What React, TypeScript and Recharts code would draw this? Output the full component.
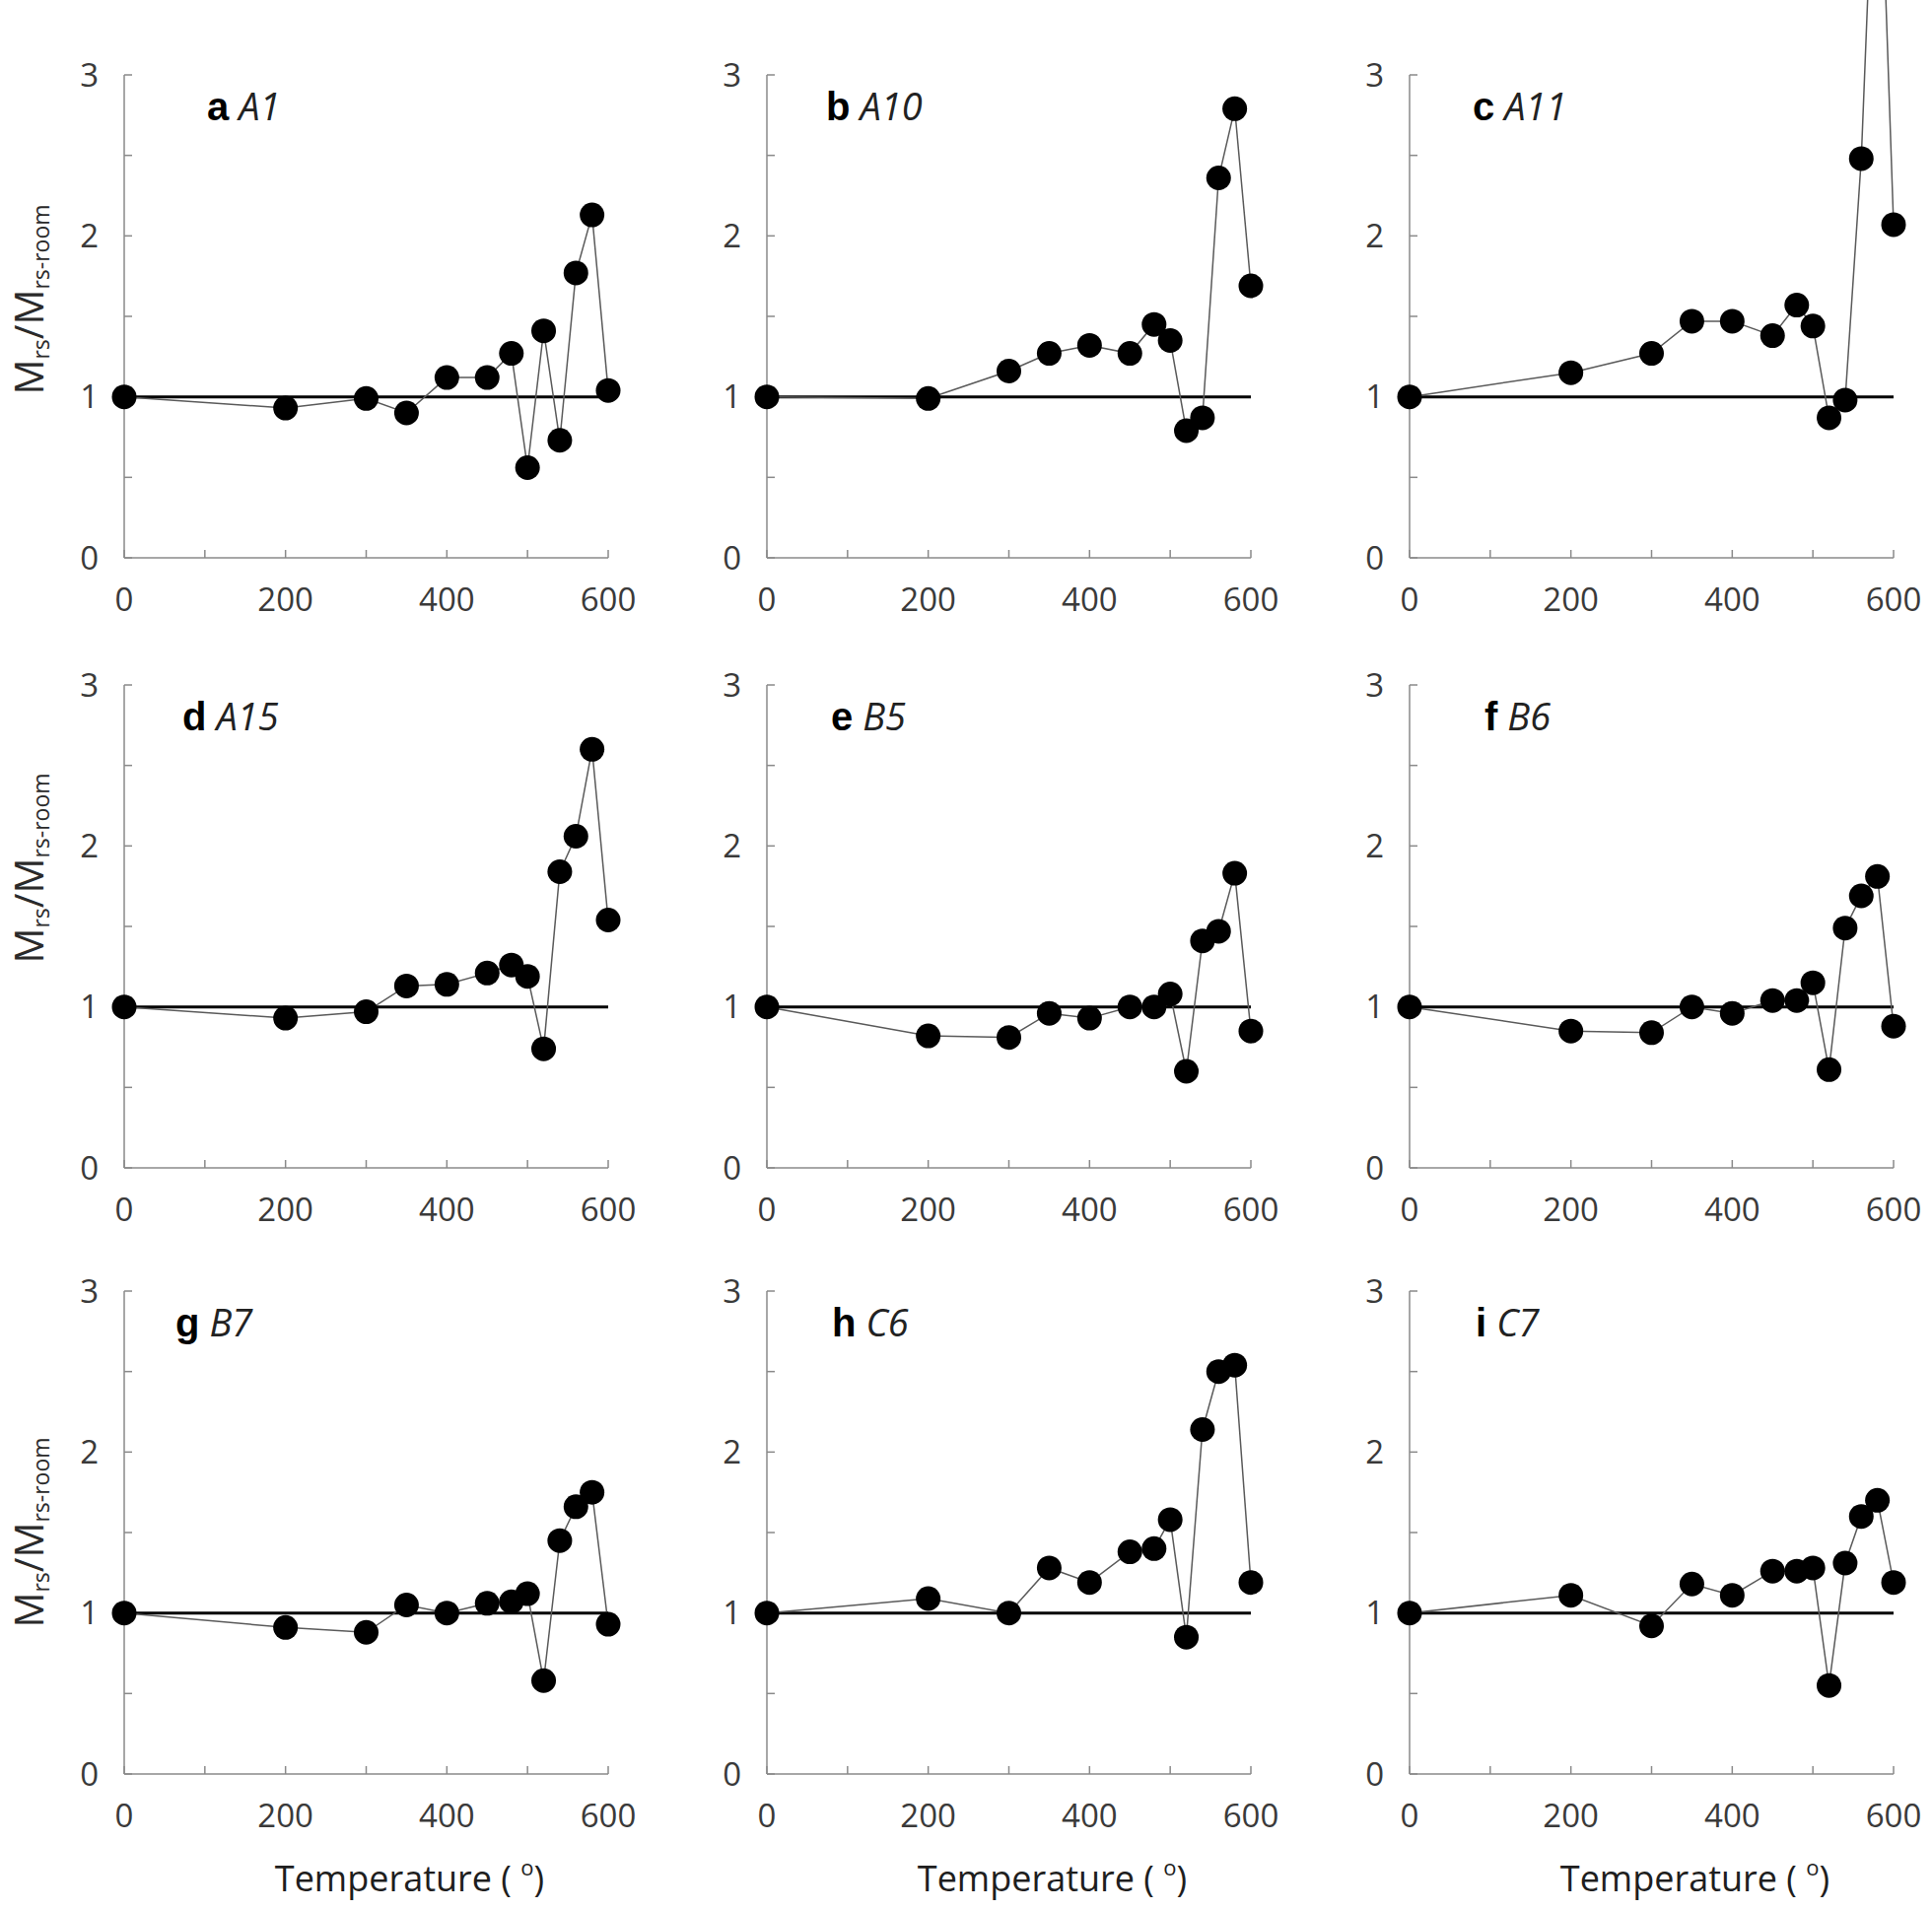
import { Line, LineChart, ReferenceLine, XAxis, YAxis } from 'recharts';

// heating steps (°C), shared by every sample
const temps = [0, 200, 300, 350, 400, 450, 480, 500, 520, 540, 560, 580, 600];

// Mrs / Mrs-room
const a1 = [1.0, 0.93, 0.99, 0.9, 1.12, 1.12, 1.27, 0.56, 1.41, 0.73, 1.77, 2.13, 1.04];
const a10 = [1.0, 0.99, 1.16, 1.27, 1.32, 1.27, 1.45, 1.35, 0.79, 0.87, 2.36, 2.79, 1.69];
const a11 = [1.0, 1.15, 1.27, 1.47, 1.47, 1.38, 1.57, 1.44, 0.87, 0.98, 2.48, 5.0, 2.07];
const a15 = [1.0, 0.93, 0.97, 1.13, 1.14, 1.21, 1.26, 1.19, 0.74, 1.84, 2.06, 2.6, 1.54];
const b5 = [1.0, 0.82, 0.81, 0.96, 0.93, 1.0, 1.0, 1.08, 0.6, 1.41, 1.47, 1.83, 0.85];
const b6 = [1.0, 0.85, 0.84, 1.0, 0.96, 1.04, 1.04, 1.15, 0.61, 1.49, 1.69, 1.81, 0.88];
const b7 = [1.0, 0.91, 0.88, 1.05, 1.0, 1.06, 1.07, 1.12, 0.58, 1.45, 1.66, 1.75, 0.93];
const c6 = [1.0, 1.09, 1.0, 1.28, 1.19, 1.38, 1.4, 1.58, 0.85, 2.14, 2.5, 2.54, 1.19];
const c7 = [1.0, 1.11, 0.92, 1.18, 1.11, 1.26, 1.26, 1.28, 0.55, 1.31, 1.6, 1.7, 1.19];

const letters = ['a', 'b', 'c', 'd', 'e', 'f', 'g', 'h', 'i'];
const samples = ['A1', 'A10', 'A11', 'A15', 'B5', 'B6', 'B7', 'C6', 'C7'];
const series = [a1, a10, a11, a15, b5, b6, b7, c6, c7];

const xTicks = [0, 100, 200, 300, 400, 500, 600];
const xLabelled = [0, 200, 400, 600];
const yTicks = [0, 0.5, 1, 1.5, 2, 2.5, 3];

// layout
const COL_LEFT = [126, 778, 1430];
const ROW_TOP = [76, 695, 1310];
const PLOT_W = 491;
const PLOT_H = 490;
const Y_AXIS_W = 126;
const TOP_PAD = 60;
const RIGHT_PAD = 30;
const X_AXIS_H = 130;
const LABEL_DX = [84, 60, 64, 59, 65, 76, 52, 66, 67];
const YTITLE_SHIFT = [-17, -59, 0];

const AXIS = '#8a8a8a';
const TICK_TEXT = '#3a3a3a';
const FONT = "'Open Sans', sans-serif";

function Panel({ idx }: { idx: number }) {
  const col = idx % 3;
  const row = Math.floor(idx / 3);
  const values = series[idx];
  const data = temps.map((t, i) => ({ t, v: values[i] }));

  // sample c runs off the top of the figure: extend the plot up to the page edge
  const ext = Math.max(...values) > 3 ? ROW_TOP[row] : 0;
  const marginTop = ext > 0 ? 0 : TOP_PAD;
  const plotH = PLOT_H + ext;
  const yTop = 3 + (ext * 3) / PLOT_H;
  const width = Y_AXIS_W + PLOT_W + RIGHT_PAD;
  const height = marginTop + plotH + X_AXIS_H;
  const plotTop = marginTop + ext; // where y = 3 sits
  const axisY = marginTop + plotH;

  return (
    <div style={{ position: 'absolute', left: COL_LEFT[col] - Y_AXIS_W, top: ROW_TOP[row] - ext - marginTop }}>
      <LineChart width={width} height={height} data={data} margin={{ top: marginTop, right: RIGHT_PAD, bottom: 0, left: 0 }}>
        <XAxis
          dataKey="t"
          type="number"
          domain={[0, 600]}
          ticks={xTicks}
          interval={0}
          tickFormatter={(v: number) => (xLabelled.includes(v) ? String(v) : '')}
          height={X_AXIS_H}
          tickSize={-8}
          tickMargin={39}
          axisLine={{ stroke: AXIS, strokeWidth: 1.5 }}
          tickLine={{ stroke: AXIS, strokeWidth: 1.5 }}
          tick={{ fill: TICK_TEXT, fontSize: 33, fontFamily: FONT }}
        />
        <YAxis
          type="number"
          domain={[0, yTop]}
          allowDataOverflow
          ticks={yTicks}
          interval={0}
          tickFormatter={(v: number) => (Number.isInteger(v) ? String(v) : '')}
          width={Y_AXIS_W}
          axisLine={false}
          tickSize={-8}
          tickMargin={34}
          tickLine={{ stroke: AXIS, strokeWidth: 1.5 }}
          tick={{ fill: TICK_TEXT, fontSize: 33, fontFamily: FONT }}
        />
        <ReferenceLine segment={[{ x: 0, y: 0 }, { x: 0, y: 3 }]} stroke={AXIS} strokeWidth={1.5} />
        <ReferenceLine y={1} stroke="#000" strokeWidth={3} />
        <Line
          type="linear"
          dataKey="v"
          stroke="#5a5a5a"
          strokeWidth={1.5}
          dot={{ r: 12.5, fill: '#000', stroke: 'none' }}
          isAnimationActive={false}
        />
        <text x={Y_AXIS_W + LABEL_DX[idx]} y={plotTop + 46} fill="#000">
          <tspan fontFamily="'Liberation Sans', Arial, sans-serif" fontWeight="bold" fontSize={40}>
            {letters[idx]}
          </tspan>
          <tspan dx={10} fontFamily={FONT} fontStyle="italic" fontSize={38} fill="#222">
            {samples[idx]}
          </tspan>
        </text>
        {col === 0 && (
          <text
            transform={`translate(44, ${plotTop + PLOT_H / 2 + YTITLE_SHIFT[row]}) rotate(-90)`}
            textAnchor="middle"
            fontFamily={FONT}
            fontSize={40}
            fill="#2a2a2a"
          >
            M
            <tspan fontSize={23} dy={6}>rs</tspan>
            <tspan dy={-6}>/M</tspan>
            <tspan fontSize={23} dy={6}>rs-room</tspan>
          </text>
        )}
        {row === 2 && (
          <text
            x={Y_AXIS_W + PLOT_W / 2 + 44}
            y={axisY + 119}
            textAnchor="middle"
            fontFamily={FONT}
            fontSize={36}
            fill="#1e1e1e"
          >
            {'Temperature ( '}
            <tspan fontSize={22} dy={-16}>o</tspan>
            <tspan dy={16}>)</tspan>
          </text>
        )}
      </LineChart>
    </div>
  );
}

export default function App() {
  return (
    <div style={{ position: 'absolute', left: 0, top: 0, width: 1960, height: 1938, background: '#fff' }}>
      {series.map((_, i) => (
        <Panel key={i} idx={i} />
      ))}
    </div>
  );
}
